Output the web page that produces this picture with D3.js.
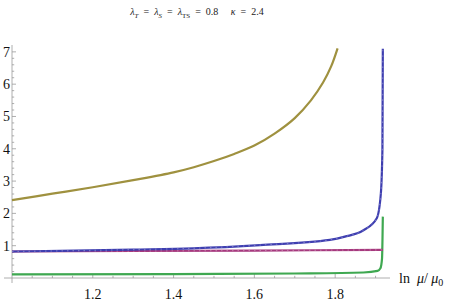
<!DOCTYPE html>
<html>
<head>
<meta charset="utf-8">
<script src="https://cdn.jsdelivr.net/npm/d3@7"></script>
<style>
  body { margin: 0; background: #fff; }
  svg { display: block; }
</style>
</head>
<body>
<div id="chart"></div>
<script>
// values
var goldX = [1.0, 1.1, 1.2, 1.3, 1.4, 1.45, 1.5, 1.55, 1.6, 1.65, 1.7, 1.74, 1.77, 1.79, 1.806];
var goldY = [2.41, 2.61, 2.81, 3.03, 3.27, 3.43, 3.62, 3.84, 4.10, 4.47, 4.95, 5.5, 6.05, 6.55, 7.11];

var blueX = [1.0, 1.119, 1.3, 1.448, 1.614, 1.787, 1.824, 1.869, 1.903, 1.913, 1.917, 1.918];
var blueY = [0.82, 0.84, 0.88, 0.92, 1.02, 1.18, 1.28, 1.47, 1.85, 2.6, 4.0, 7.1];

var magX = [1.0, 1.3, 1.6, 1.918];
var magY = [0.82, 0.835, 0.85, 0.87];

var greenX = [1.0, 1.4, 1.7, 1.87, 1.905, 1.912, 1.916, 1.918];
var greenY = [0.11, 0.12, 0.14, 0.17, 0.22, 0.3, 0.6, 1.9];

var xTicks = [1.2, 1.4, 1.6, 1.8];
var yTicks = [1, 2, 3, 4, 5, 6, 7];

var width = 457;
var height = 304;
var serif = "'Liberation Serif', 'Times New Roman', 'DejaVu Serif', serif";

var svg = d3.select("#chart").append("svg")
    .attr("width", width)
    .attr("height", height)
    .style("font-family", serif);

var x = d3.scaleLinear().domain([1.0, 1.935]).range([12, 389.7]);
var y = d3.scaleLinear().domain([0, 7.2]).range([278, 45.4]);

// title
var title = svg.append("text")
    .attr("x", 197)
    .attr("y", 15)
    .attr("text-anchor", "middle")
    .attr("font-size", 10)
    .attr("fill", "#222")
    .style("white-space", "pre");
function lam(sub) {
    title.append("tspan").attr("font-style", "italic").text("λ");
    title.append("tspan").attr("font-size", 7).attr("dy", 2.5)
        .attr("font-style", sub == "TS" ? "normal" : "italic").text(sub);
    title.append("tspan").attr("dy", -2.5).text(" ");
}
lam("T");
title.append("tspan").text(" =  ");
lam("S");
title.append("tspan").text(" =  ");
lam("TS");
title.append("tspan").text(" =  0.8     ");
title.append("tspan").attr("font-style", "italic").text("κ");
title.append("tspan").text("  =  2.4");

// axes
var axisColor = "#9a9a9a";
var ax = svg.append("g").attr("stroke", axisColor).attr("stroke-width", 0.8);
ax.append("line").attr("x1", 4).attr("x2", 390).attr("y1", y(0)).attr("y2", y(0));
ax.append("line").attr("x1", x(1.0)).attr("x2", x(1.0)).attr("y1", 283).attr("y2", 45);

// x minor ticks every 0.05
d3.range(1.05, 1.93, 0.05).forEach(function(v) {
    var major = xTicks.some(function(t) { return Math.abs(t - v) < 1e-6; });
    ax.append("line")
        .attr("x1", x(v)).attr("x2", x(v))
        .attr("y1", y(0)).attr("y2", y(0) - (major ? 4 : 2.2));
});
// y minor ticks every 0.2
d3.range(0.2, 7.15, 0.2).forEach(function(v) {
    var major = Math.abs(v - Math.round(v)) < 1e-6;
    ax.append("line")
        .attr("x1", x(1.0)).attr("x2", x(1.0) + (major ? 4 : 2.2))
        .attr("y1", y(v)).attr("y2", y(v));
});

svg.append("g").selectAll("text")
    .data(xTicks)
    .join("text")
    .attr("x", d => x(d))
    .attr("y", 299)
    .attr("text-anchor", "middle")
    .attr("font-size", 14)
    .attr("fill", "#111")
    .text(d => d3.format(".1f")(d));

svg.append("g").selectAll("text")
    .data(yTicks)
    .join("text")
    .attr("x", 10)
    .attr("y", d => y(d) + 5)
    .attr("text-anchor", "end")
    .attr("font-size", 14)
    .attr("fill", "#111")
    .text(d => d);

// x axis label
var xl = svg.append("text")
    .attr("x", 399)
    .attr("y", 283)
    .attr("font-size", 14)
    .attr("fill", "#111")
    .style("white-space", "pre");
xl.append("tspan").text("ln  ");
xl.append("tspan").attr("font-style", "italic").text("μ");
xl.append("tspan").text("/ ");
xl.append("tspan").attr("font-style", "italic").text("μ");
xl.append("tspan").attr("font-size", 10).attr("dy", 3).text("0");

// curves
var line = d3.line()
    .x(d => x(d[0]))
    .y(d => y(d[1]))
    .curve(d3.curveMonotoneX);

var smooth = d3.line()
    .x(d => x(d[0]))
    .y(d => y(d[1]))
    .curve(d3.curveCatmullRom.alpha(0.5));

function pairs(xs, ys) {
    return xs.map(function(v, i) { return [v, ys[i]]; });
}

var series = [
    { pts: pairs(greenX, greenY), color: "#3fa851", dots: false, gen: line },
    { pts: pairs(magX, magY), color: "#a6397e", dots: true, gen: line },
    { pts: pairs(blueX, blueY), color: "#3e3eb0", dots: true, gen: line },
    { pts: pairs(goldX, goldY), color: "#9f913f", dots: false, gen: smooth }
];

var g = svg.append("g").attr("fill", "none");
series.forEach(function(s) {
    g.append("path")
        .attr("d", s.gen(s.pts))
        .attr("stroke", s.color)
        .attr("stroke-width", 2.2)
        .attr("stroke-linejoin", "round");
    if (s.dots) {
        g.append("path")
            .attr("d", s.gen(s.pts))
            .attr("stroke", "#fff")
            .attr("stroke-opacity", 0.55)
            .attr("stroke-width", 0.6)
            .attr("stroke-dasharray", "1.5,4");
    }
});
</script>
</body>
</html>
